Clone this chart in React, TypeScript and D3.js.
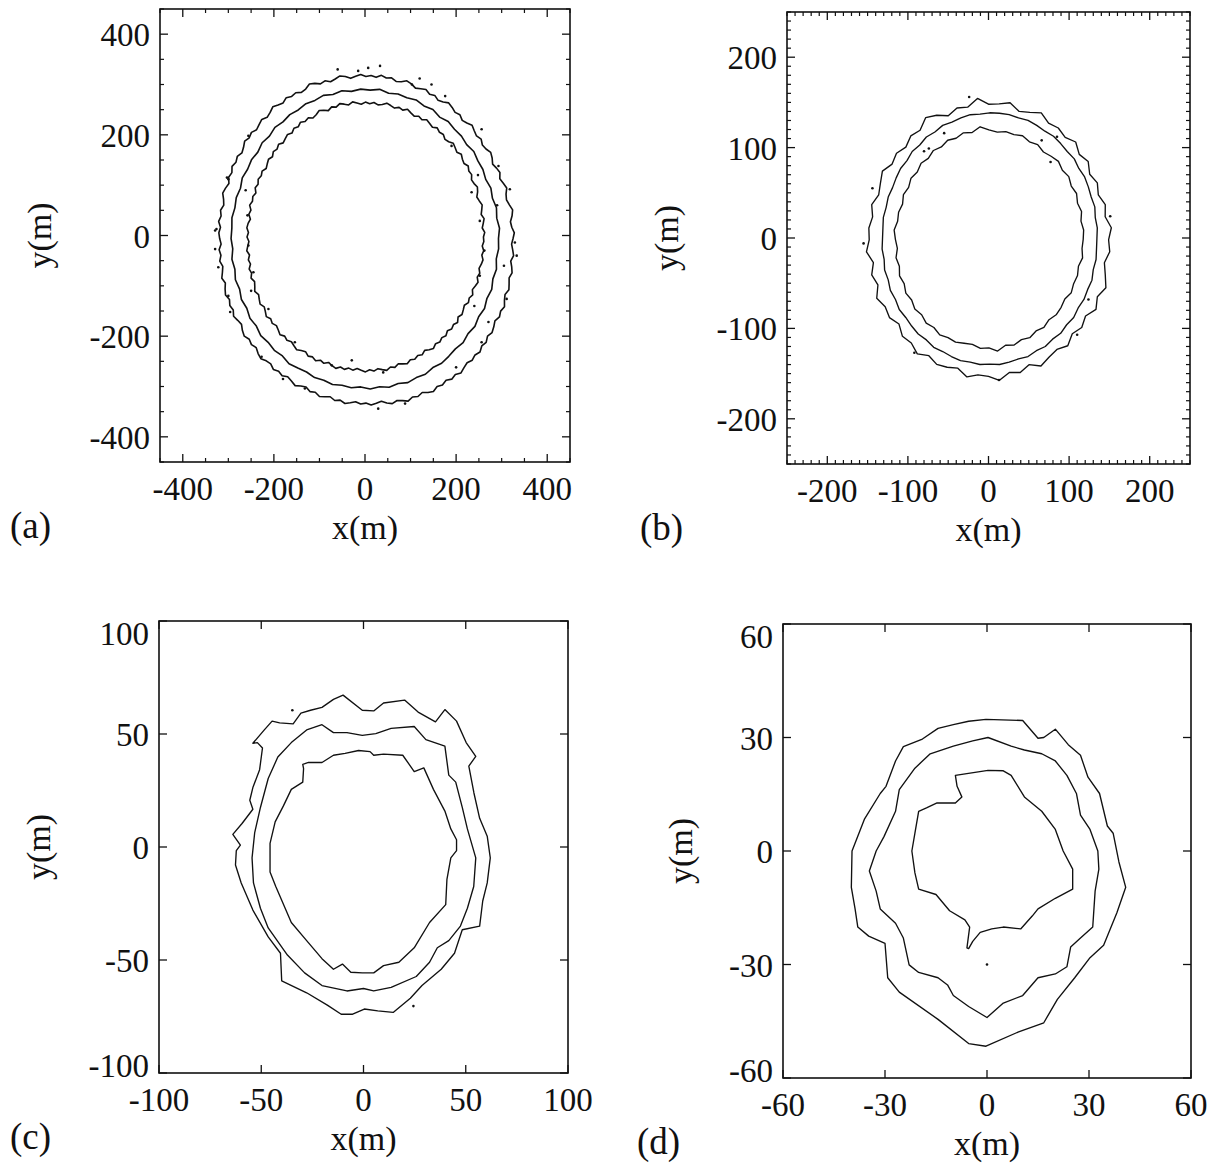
import React, { useEffect, useRef } from "react";
import * as d3 from "d3";

type Pt = [number, number];

// ---- panel (a): contour radii (m), read at equal angle steps counter-clockwise from +x
const aOuter = [
  323, 326, 321, 319, 324, 327, 322, 318, 320, 325, 321, 317, 322, 319, 315, 320, 323, 318, 316, 321, 317, 320, 324,
  319, 316, 321, 318, 322, 325, 320, 317, 322, 319, 324, 321, 318, 323, 326, 321, 319, 324, 322, 326, 321, 324,
  322, 326, 323, 320, 325, 328, 324, 321, 326, 323, 328, 331, 325, 323, 328, 326, 330, 325, 328, 332, 327, 324,
  329, 326, 323, 328, 325, 329, 324, 321, 326, 323, 327, 322, 325, 320, 324, 327, 322, 319, 324, 321, 325, 320, 323,
  321, 318, 323, 320, 324, 319, 322, 326, 321, 325, 328, 323, 327, 324, 329, 325, 322, 327, 330, 325, 328, 324,
  329, 332, 327, 325, 330, 326, 329, 324, 327, 331, 326, 323, 328, 325, 330, 327, 324, 329, 326, 331, 328, 325, 329,
  327, 331, 328, 325, 330, 333, 329, 332, 336, 331, 334, 330, 335, 338, 333, 336, 332, 337, 334, 339, 335, 332,
  336, 333, 337, 332, 335, 330, 334, 331, 327, 332, 329, 333, 328, 325, 330, 327, 324, 328, 325, 321, 326, 323, 320,
];
const aMiddle = [
  292, 295, 291, 294, 290, 293, 289, 292, 291, 294, 290, 293, 292, 295, 291, 296, 293, 297, 294, 296, 293, 298, 295,
  297, 294, 298, 295, 299, 296, 298, 295, 297, 294, 297, 293, 296, 292, 295, 293, 296, 292, 295, 293, 296, 294, 295,
  292, 296, 293, 297, 294, 298, 295, 299, 296, 300, 297, 299, 296, 300, 297, 295, 298, 296, 299, 296, 298, 295,
  299, 296, 300, 297, 301, 298, 300, 296, 299, 297, 295, 298, 294, 297, 293, 296, 292, 295, 291, 294, 290, 293,
];
const aInner = [
  259, 262, 257, 260, 263, 258, 261, 264, 260, 257, 262, 265, 261, 259, 264, 262, 266, 261, 263, 267, 262, 265, 268,
  263, 261, 266, 264, 268, 263, 266, 269, 264, 267, 263, 266, 270, 265, 268, 264, 267, 270, 266, 264, 268, 265,
  268, 264, 267, 270, 265, 268, 271, 266, 269, 264, 268, 271, 266, 263, 268, 265, 269, 264, 267, 262, 266, 263,
  260, 265, 261, 264, 259, 263, 260, 257, 262, 259, 262, 258, 261, 256, 260, 258, 262, 257, 260, 255, 259, 261, 257,
  260, 256, 259, 262, 257, 261, 258, 263, 260, 264, 259, 262, 266, 261, 264, 267, 262, 265, 269, 264, 267, 263,
  266, 270, 265, 268, 264, 267, 270, 266, 263, 268, 265, 269, 264, 267, 262, 266, 269, 264, 267, 263, 266, 262, 265,
  268, 264, 267, 263, 266, 269, 264, 267, 262, 265, 268, 263, 266, 262, 265, 260, 264, 267, 262, 265, 261, 264,
  259, 263, 260, 264, 258, 262, 259, 256, 261, 258, 262, 257, 260, 263, 258, 261, 257, 260, 262, 258, 261, 257, 260,
];
const aCenters: Pt[] = [[2, -6], [1, -6], [1, -3]];
const aDots: Pt[] = [
  [-15, 327], [7, 333], [33, 337], [146, 300], [176, 277], [256, 211], [293, 138], [329, -14], [333, -40],
  [311, -126], [256, -212], [-326, 13], [-329, -27], [-300, 112], [-256, 198], [-227, -241], [-132, -304],
  [29, -344], [-29, -248], [-73, -258], [103, 300], [190, 178], [234, 86], [252, 29], [252, -80], [-245, -73],
  [-212, -146], [-154, -212], [88, -334], [271, -172], [-303, 115], [-329, 10], [-322, -63], [-296, -152],
  [-258, 40], [-256, -20], [-262, 90], [-250, -110], [248, 120], [262, -30], [240, -140], [290, 60],
  [305, -60], [-180, -285], [40, -272], [-60, 330], [120, 312], [200, -262], [-300, -120], [318, 92],
];

// ---- panel (b): contour radii (m), every 5 deg
const bOuter = [
  149, 153, 147, 150, 145, 149, 145, 151, 147, 153, 148, 151, 149, 155, 150, 147, 154, 151,
  150, 157, 149, 151, 146, 152, 156, 148, 150, 145, 149, 146, 152, 148, 145, 150, 146, 149,
  148, 152, 145, 150, 146, 153, 148, 150, 145, 151, 149, 154, 148, 152, 150, 147, 154, 150,
  151, 156, 149, 152, 147, 154, 150, 148, 153, 147, 151, 147, 154, 149, 155, 150, 146, 151,
];
const bMiddle = [
  133, 134, 133, 135, 134, 135, 136, 135, 137, 136, 137, 138, 137, 138, 139, 138, 139, 139,
  139, 138, 139, 138, 137, 138, 136, 137, 135, 136, 134, 135, 134, 133, 134, 133, 134, 133,
  133, 134, 133, 135, 134, 136, 135, 137, 136, 137, 138, 137, 139, 138, 139, 140, 139, 140,
  139, 140, 139, 138, 139, 137, 138, 136, 137, 135, 136, 134, 135, 134, 135, 133, 134, 133,
];
const bInner = [
  117, 118, 116, 119, 117, 120, 118, 121, 119, 122, 120, 118, 121, 119, 122, 120, 121, 119,
  121, 125, 120, 122, 119, 121, 118, 120, 117, 119, 116, 118, 115, 117, 114, 116, 115, 118,
  116, 114, 117, 115, 118, 116, 119, 117, 120, 118, 121, 119, 122, 120, 121, 119, 118, 121,
  120, 124, 119, 121, 118, 120, 117, 119, 116, 118, 117, 115, 118, 116, 117, 115, 118, 116,
];
const bCenters: Pt[] = [[0, -2], [1.5, -0.5], [0.5, -1.5]];
const bDots: Pt[] = [
  [-24, 156], [-55, 116], [-74, 99], [-80, 96], [66, 108], [85, 112], [77, 84], [-144, 55],
  [-155, -6], [151, 24], [124, -68], [110, -107], [-92, -127], [13, -157],
];

// ---- panel (c): contour vertices (m)
const cOuter: Pt[] = [
  [-10, 67.2], [-0.6, 60.5], [5, 60.2], [9.8, 63.7], [20.1, 65], [26.7, 59.7], [35.2, 55.4], [39.8, 60.8],
  [45.5, 55.7], [50.2, 46.2], [54.9, 40.1], [51.5, 35.8], [54, 23.9], [56.8, 12.7], [60.5, 4.8], [62, -4.8],
  [60.5, -15.9], [58.3, -23.9], [56.8, -35], [48.3, -36.6], [44.5, -47], [38, -54.1], [28.6, -61.3],
  [22.9, -66.9], [14.5, -73.2], [7, -72.5], [0.4, -71.7], [-5.3, -74], [-10.9, -74], [-17.5, -70.1],
  [-27.8, -64.5], [-40, -59.2], [-40.6, -47], [-46.6, -39.8], [-54.1, -27.9], [-59.8, -15.9], [-62.6, -8],
  [-62.2, -1.6], [-60.2, 0.8], [-63.9, 5.6], [-59.4, 10.4], [-54.1, 16.7], [-55.6, 20.7], [-54.1, 26.3],
  [-50.8, 34.2], [-49.4, 43.8], [-51.9, 46.2], [-54.1, 45.9], [-48.5, 51.8], [-44.7, 55.7], [-41, 54.9],
  [-34.4, 54.5], [-30.6, 59.2], [-25.9, 60.5], [-20.3, 61.8], [-14.7, 65.3],
];
const cMiddle: Pt[] = [
  [-20.3, 54.1], [-14.7, 50.6], [-8.1, 50.6], [-0.6, 49.4], [6, 50.2], [13.5, 52.5], [24.8, 53.3],
  [30.5, 47.5], [39.8, 44.6], [41.7, 31.8], [45.1, 28.7], [48.3, 17.5], [50.8, 8], [54.9, -4.8],
  [53.9, -17.5], [50.8, -27.1], [47.4, -35], [41.7, -41.4], [36.1, -44.6], [32.3, -51], [25.8, -57.3],
  [13.5, -62.1], [5, -63.7], [0, -62.6], [-8.1, -63.7], [-20.3, -61.3], [-28.8, -55.7], [-37.2, -47.8],
  [-46.6, -35.8], [-50.4, -27.1], [-53.8, -15.9], [-54.5, -4.8], [-53.2, 6.4], [-50.4, 17.5],
  [-46.6, 30.3], [-41.9, 39.8], [-35.3, 46.2], [-27.8, 51.8],
];
const cInner: Pt[] = [
  [-29.7, 36.6], [-26.9, 37.4], [-20.3, 37.4], [-14.7, 40.6], [-9, 41.4], [-2.4, 42.7], [3.2, 42.2],
  [5, 40.6], [9.8, 41.1], [19.2, 40.6], [24.8, 33.4], [29.5, 35], [34.2, 25.5], [39.8, 15.9], [42.7, 8],
  [45.5, 3.2], [45.5, -1.6], [42.7, -4.8], [40.8, -14.3], [40.2, -25.5], [32.3, -33.4], [24.8, -44.6],
  [17.3, -51], [9.8, -52.5], [5, -55.7], [-0.6, -55.7], [-6.2, -55.4], [-10.3, -51.8], [-14.7, -54.1],
  [-20.3, -49.4], [-27.8, -41.4], [-35.3, -33.4], [-42.9, -17.5], [-45.7, -11.1], [-45.7, 1.6],
  [-43.2, 11.1], [-39.1, 18.3], [-35.3, 25.5], [-29.7, 28.7], [-29.3, 34.7],
];
const cDots: Pt[] = [[-34.8, 60.5], [24.4, -70.4]];

// ---- panel (d): contour vertices (m)
const dOuter: Pt[] = [
  [-0.3, 34.8], [10.5, 34.5], [15, 29.8], [16.7, 30], [20.1, 32.2], [23.9, 28.1], [27.5, 25.3],
  [29.7, 19.5], [33.1, 15.2], [35.4, 6.6], [37.1, 4.7], [38.8, -2.9], [40.8, -9.6], [38.2, -16.3],
  [34.3, -24.9], [30.3, -28.2], [25.8, -33.5], [20.7, -39.2], [16.7, -45.4], [9.3, -47.8], [-0.3, -51.6],
  [-5.4, -50.9], [-14.4, -44.5], [-25.8, -37.3], [-29.2, -33.5], [-30, -24.4], [-34.8, -22.5],
  [-38, -20.1], [-38.8, -15.3], [-39.9, -9.6], [-39.7, 0], [-36, 8.5], [-31.4, 15.2], [-29.7, 17.1],
  [-26.9, 23.8], [-24.6, 27.6], [-19, 29.6], [-14.4, 32.4], [-9.9, 33.4], [-5.4, 34.3],
];
const dMiddle: Pt[] = [
  [0.3, 30], [7.1, 27.7], [11, 26.7], [16.1, 25.7], [20.1, 23.8], [23.5, 20], [26.3, 15.2], [27.5, 9.5],
  [30.3, 5.7], [32.6, 0], [32.9, -4.8], [31.8, -10.6], [31.1, -20.1], [27.5, -23], [24.6, -25.4],
  [23.5, -30.6], [20.1, -32.5], [15, -33.5], [10.5, -38.2], [4.8, -40.2], [0, -44], [-5.4, -41.1],
  [-9.9, -38.2], [-11.6, -35.4], [-14.4, -33.5], [-20.1, -32.1], [-22.9, -30.1], [-24.6, -23],
  [-26.9, -19.1], [-31.4, -15.3], [-32.6, -10.6], [-34.6, -5.3], [-32.6, 0], [-30.3, 3.8], [-26.9, 10.5],
  [-25.8, 16.2], [-21.2, 21.9], [-16.7, 25.7], [-9.9, 27.7], [-4.2, 29.1],
];
const dInner: Pt[] = [
  [-9.3, 20], [0.3, 21.3], [4.8, 21.2], [7.1, 20], [11, 14.3], [16.1, 10.5], [20.1, 5.7], [22.4, 0],
  [25.2, -4.8], [25.2, -10.1], [20.1, -12.5], [15, -15.3], [13.3, -17.2], [9.9, -20.6], [4.8, -20.1],
  [1.4, -20.6], [-2, -21.5], [-4.2, -23.9], [-5.4, -25.8], [-5.9, -25.6], [-5.1, -20.1], [-6.5, -18.2],
  [-11, -15.8], [-15, -11.5], [-20.1, -10.1], [-21.2, -5.8], [-22.1, 0], [-21.2, 4.7], [-20.1, 10.5],
  [-17.8, 11.4], [-14.7, 12.7], [-9.3, 12.7], [-7.4, 14.3], [-8.8, 17.1],
];
const dDots: Pt[] = [[0, -30]];

// ---- axis ticks
const ticksA = [-400, -200, 0, 200, 400];
const ticksB = [-200, -100, 0, 100, 200];
const ticksC = [-100, -50, 0, 50, 100];
const ticksD = [-60, -30, 0, 30, 60];

const polar = (c: Pt, radii: number[]): Pt[] =>
  radii.map((r, i) => {
    const t = (i / radii.length) * 2 * Math.PI;
    return [c[0] + r * Math.cos(t), c[1] + r * Math.sin(t)];
  });

const FONT = "'Liberation Serif', 'Times New Roman', serif";
const INK = "#111";

const panels = [
  {
    tag: "(a)", box: { l: 160, r: 570, t: 9, b: 462 }, lim: 450, ticks: ticksA, minor: 50,
    rings: [polar(aCenters[0], aOuter), polar(aCenters[1], aMiddle), polar(aCenters[2], aInner)],
    dots: aDots, yLabX: 51, tagX: 10, width: 1.6,
  },
  {
    tag: "(b)", box: { l: 787, r: 1190, t: 12, b: 464 }, lim: 250, ticks: ticksB, minor: 10,
    rings: [polar(bCenters[0], bOuter), polar(bCenters[1], bMiddle), polar(bCenters[2], bInner)],
    dots: bDots, yLabX: 678, tagX: 640, width: 1.35,
  },
  {
    tag: "(c)", box: { l: 159, r: 568, t: 621, b: 1073 }, lim: 100, ticks: ticksC, minor: 0,
    rings: [cOuter, cMiddle, cInner], dots: cDots, yLabX: 50, tagX: 10, width: 1.35,
  },
  {
    tag: "(d)", box: { l: 783, r: 1191, t: 624, b: 1078 }, lim: 60, ticks: ticksD, minor: 0,
    rings: [dOuter, dMiddle, dInner], dots: dDots, yLabX: 692, tagX: 637, width: 1.35,
  },
];

const App = () => {
  const ref = useRef<SVGSVGElement>(null);

  useEffect(() => {
    const svg = d3.select(ref.current);
    svg.selectAll("*").remove();
    svg.append("rect").attr("width", 1216).attr("height", 1168).attr("fill", "#fff");

    panels.forEach((p) => {
      const { l, r, t, b } = p.box;
      const x = d3.scaleLinear().domain([-p.lim, p.lim]).range([l, r]);
      const y = d3.scaleLinear().domain([-p.lim, p.lim]).range([b, t]);
      const g = svg.append("g");

      // contours
      const line = d3.line<Pt>().x((d) => x(d[0])).y((d) => y(d[1])).curve(d3.curveLinearClosed);
      p.rings.forEach((ring) => {
        g.append("path")
          .attr("d", line(ring))
          .attr("fill", "none")
          .attr("stroke", INK)
          .attr("stroke-width", p.width)
          .attr("stroke-linejoin", "round");
      });
      g.selectAll(".dot")
        .data(p.dots)
        .enter()
        .append("circle")
        .attr("cx", (d) => x(d[0]))
        .attr("cy", (d) => y(d[1]))
        .attr("r", 1.3)
        .attr("fill", INK);

      // ticks, pointing inwards on all four sides
      const tick = (v: number, len: number, w: number) => {
        g.append("line").attr("x1", x(v)).attr("x2", x(v)).attr("y1", b).attr("y2", b - len)
          .attr("stroke", INK).attr("stroke-width", w);
        g.append("line").attr("x1", x(v)).attr("x2", x(v)).attr("y1", t).attr("y2", t + len)
          .attr("stroke", INK).attr("stroke-width", w);
        g.append("line").attr("y1", y(v)).attr("y2", y(v)).attr("x1", l).attr("x2", l + len)
          .attr("stroke", INK).attr("stroke-width", w);
        g.append("line").attr("y1", y(v)).attr("y2", y(v)).attr("x1", r).attr("x2", r - len)
          .attr("stroke", INK).attr("stroke-width", w);
      };
      if (p.minor) {
        d3.range(-p.lim, p.lim + 0.001, p.minor)
          .filter((v) => !p.ticks.includes(v))
          .forEach((v) => tick(v, 4, 1.2));
      }
      p.ticks.forEach((v) => tick(v, 8, 1.3));

      // frame
      g.append("rect")
        .attr("x", l).attr("y", t).attr("width", r - l).attr("height", b - t)
        .attr("fill", "none").attr("stroke", INK).attr("stroke-width", 1.6);

      // tick labels
      const txt = (sel: d3.Selection<SVGTextElement, unknown, null, undefined>) =>
        sel.attr("font-family", FONT).attr("font-size", 33).attr("fill", INK);
      p.ticks.forEach((v) => {
        g.append("text").call(txt).attr("x", x(v)).attr("y", b + 38)
          .attr("text-anchor", "middle").text(String(v));
        const yy = Math.max(t + 12, Math.min(b - 8, y(v)));
        g.append("text").call(txt).attr("x", l - 10).attr("y", yy + 12)
          .attr("text-anchor", "end").text(String(v));
      });

      // axis titles and panel tag
      g.append("text").call(txt).attr("font-size", 34).attr("x", x(0)).attr("y", b + 77)
        .attr("text-anchor", "middle").text("x(m)");
      g.append("text").call(txt).attr("font-size", 34)
        .attr("transform", `translate(${p.yLabX},${(t + b) / 2}) rotate(-90)`)
        .attr("text-anchor", "middle").text("y(m)");
      g.append("text").call(txt).attr("font-size", 37).attr("x", p.tagX).attr("y", b + 76)
        .text(p.tag);
    });
  }, []);

  return (
    <div style={{ position: "absolute", left: 0, top: 0 }}>
      <svg ref={ref} width={1216} height={1168} style={{ display: "block" }} />
    </div>
  );
};

export default App;
